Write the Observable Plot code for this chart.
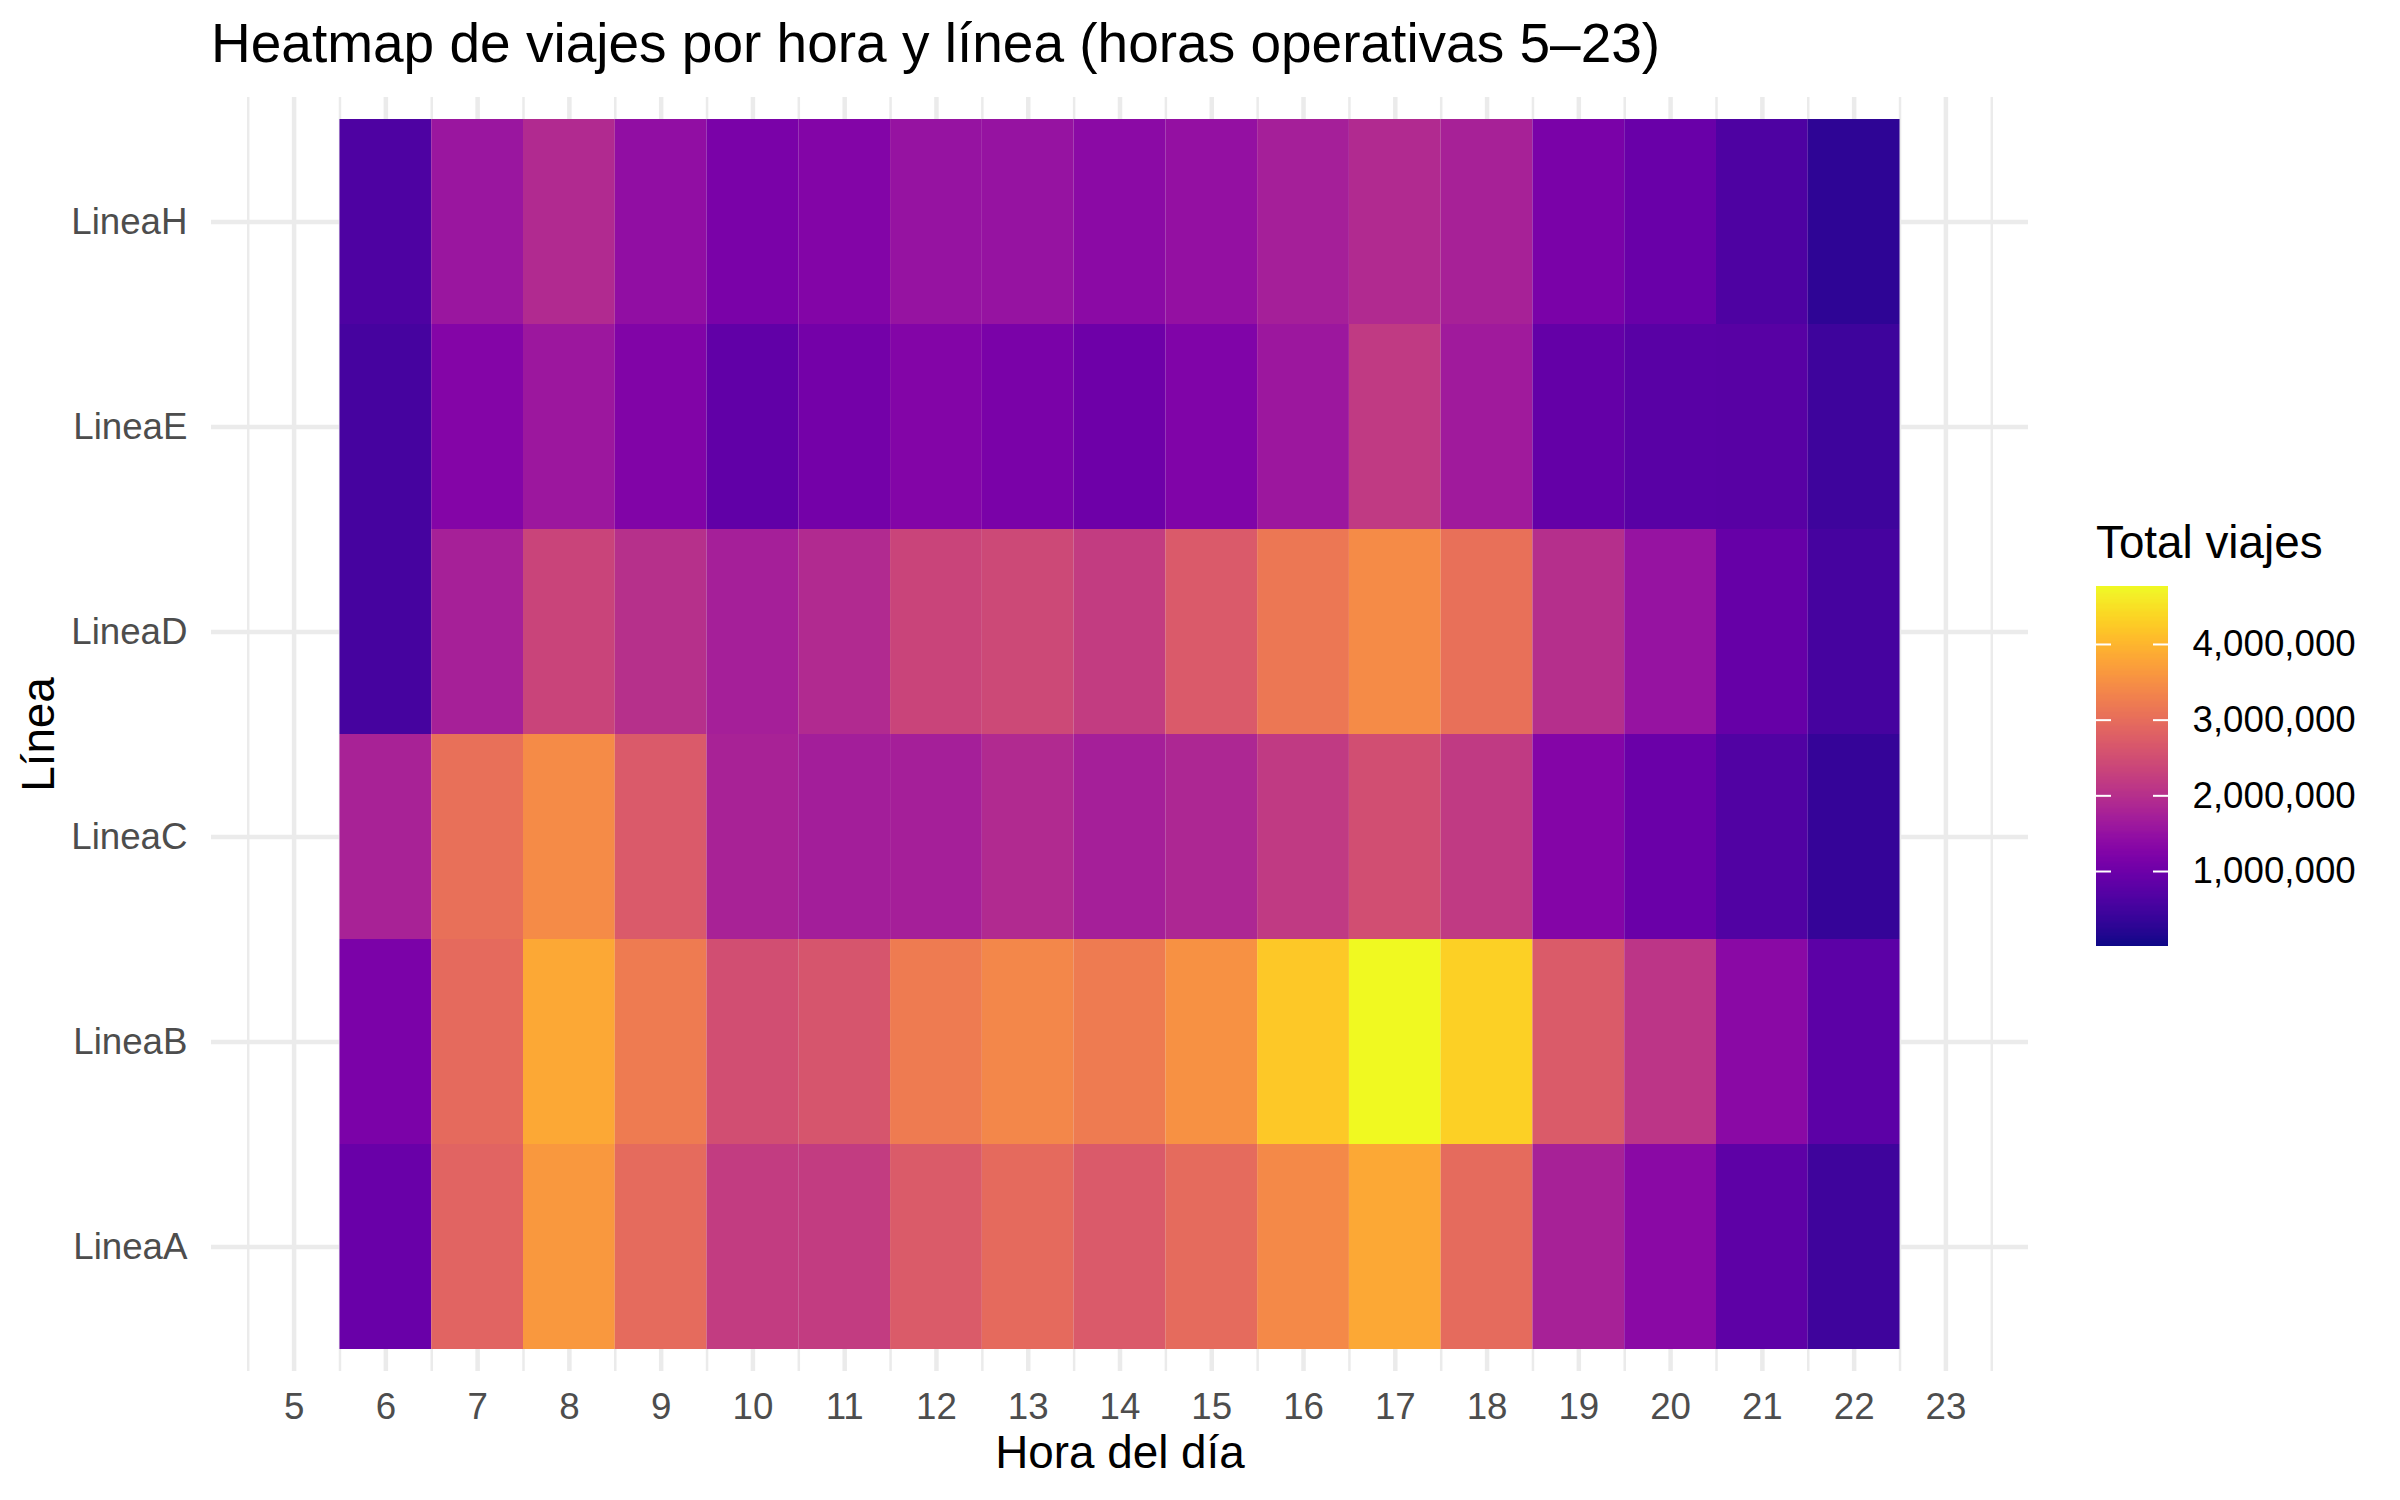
<!DOCTYPE html>
<html>
<head>
<meta charset="utf-8">
<script src="https://cdn.jsdelivr.net/npm/d3@7"></script>
<script src="https://cdn.jsdelivr.net/npm/@observablehq/plot@0.6"></script>
<style>
  html, body { margin: 0; padding: 0; background: white; }
  #page { position: relative; width: 2400px; height: 1500px; background: white; font-family: "Liberation Sans", Arial, sans-serif; overflow: hidden; }
  #title { position: absolute; left: 211px; top: 16px; font-size: 55px; line-height: 1; color: black; white-space: nowrap; }
  #chart { position: absolute; left: 0; top: 90px; width: 2400px; }
  #legend-title { position: absolute; left: 2096px; top: 520px; font-size: 45.8px; line-height: 1; color: black; white-space: nowrap; }
  #legend { position: absolute; left: 2096px; top: 576px; width: 300px; }
  svg { max-width: none !important; }
</style>
</head>
<body>
<div id="page">
  <div id="title">Heatmap de viajes por hora y línea (horas operativas 5–23)</div>
  <div id="chart"></div>
  <div id="legend-title">Total viajes</div>
  <div id="legend"></div>
</div>
<script>
// ---- Data ----
const lineOrder = ["LineaH", "LineaE", "LineaD", "LineaC", "LineaB", "LineaA"]; // top to bottom
const hours = [6, 7, 8, 9, 10, 11, 12, 13, 14, 15, 16, 17, 18, 19, 20, 21, 22];
const xTicks = [5, 6, 7, 8, 9, 10, 11, 12, 13, 14, 15, 16, 17, 18, 19, 20, 21, 22, 23];
const legendTicks = [1000000, 2000000, 3000000, 4000000];

const lineaA = [940000, 2860000, 3620000, 2980000, 2220000, 2220000, 2720000, 2960000, 2700000, 2980000, 3410000, 3820000, 2980000, 1770000, 1360000, 820000, 460000];
const lineaB = [1170000, 2960000, 3820000, 3220000, 2500000, 2620000, 3220000, 3390000, 3220000, 3530000, 4220000, 4766000, 4310000, 2720000, 2100000, 1360000, 790000];
const lineaC = [1790000, 3050000, 3430000, 2700000, 1790000, 1700000, 1730000, 1910000, 1720000, 1860000, 2170000, 2500000, 2170000, 1290000, 960000, 670000, 360000];
const lineaD = [530000, 1740000, 2340000, 2010000, 1720000, 1910000, 2340000, 2410000, 2220000, 2700000, 3150000, 3430000, 3050000, 1980000, 1530000, 910000, 530000];
const lineaE = [530000, 1290000, 1600000, 1250000, 860000, 1080000, 1270000, 1150000, 1000000, 1220000, 1600000, 2170000, 1650000, 890000, 770000, 750000, 440000];
const lineaH = [630000, 1580000, 1910000, 1440000, 1150000, 1270000, 1530000, 1530000, 1370000, 1480000, 1720000, 1910000, 1760000, 1150000, 950000, 630000, 280000];
const colorMin = 9000; // lower end of the colour bar

const series = { LineaA: lineaA, LineaB: lineaB, LineaC: lineaC, LineaD: lineaD, LineaE: lineaE, LineaH: lineaH };
const table = Object.entries(series).flatMap(([line, vals]) =>
  hours.map((hour, i) => ({ line, hour, value: vals[i] })));
const colorMax = d3.max(table, d => d.value);

const FONT = "'Liberation Sans', Arial, sans-serif";
const GRID = "#EBEBEB";
const minorX = [4.5, ...xTicks.map(t => t + 0.5)];

const chart = Plot.plot({
  width: 2400,
  height: 1410,
  marginTop: 7,
  marginBottom: 129,
  marginLeft: 211,
  marginRight: 372,
  style: { fontFamily: FONT, fontSize: "36.7px", color: "#4D4D4D", background: "white", overflow: "visible", maxWidth: "none" },
  x: { type: "linear", domain: [4.1, 23.9], ticks: xTicks, tickSize: 0, tickPadding: 21, tickFormat: d => String(d), label: null },
  y: { type: "band", domain: lineOrder, padding: 0, insetTop: 20.5, insetBottom: 20.5, tickSize: 0, tickPadding: 24, label: null },
  color: { type: "linear", scheme: "plasma", domain: [colorMin, colorMax] },
  marks: [
    Plot.ruleX(minorX, { stroke: GRID, strokeWidth: 2.5 }),
    Plot.ruleX(xTicks, { stroke: GRID, strokeWidth: 4.5 }),
    Plot.ruleY(lineOrder, { stroke: GRID, strokeWidth: 4.5 }),
    Plot.barX(table, { x1: d => d.hour - 0.5, x2: d => d.hour + 0.5, y: "line", fill: "value" }),
    Plot.text(["Hora del día"], { text: d => d, frameAnchor: "bottom", textAnchor: "middle", dy: 82, lineAnchor: "middle", fontSize: 45.8, fill: "black" }),
    Plot.text(["Línea"], { text: d => d, frameAnchor: "left", textAnchor: "middle", dx: -172, rotate: -90, lineAnchor: "middle", fontSize: 45.8, fill: "black" })
  ]
});
document.getElementById("chart").appendChild(chart);

// ---- Colour bar legend ----
const nBins = 300;
const bins = d3.range(nBins).map(i => {
  const lo = colorMin + (colorMax - colorMin) * i / nBins;
  const hi = colorMin + (colorMax - colorMin) * (i + 1) / nBins;
  return { lo, hi, mid: (lo + hi) / 2 };
});
const legend = Plot.plot({
  width: 300,
  height: 380,
  marginTop: 10,
  marginBottom: 10,
  marginLeft: 0,
  marginRight: 228,
  style: { fontFamily: FONT, fontSize: "36.7px", color: "black", background: "transparent", overflow: "visible", maxWidth: "none" },
  x: { domain: [0, 72], axis: null },
  y: { domain: [colorMin, colorMax], ticks: legendTicks, tickFormat: d3.format(","), tickSize: 0, tickPadding: 24, axis: "right", label: null },
  color: { type: "linear", scheme: "plasma", domain: [colorMin, colorMax] },
  marks: [
    Plot.rect(bins, { x1: 0, x2: 72, y1: "lo", y2: "hi", fill: "mid", shapeRendering: "crispEdges" }),
    Plot.ruleY(legendTicks, { x1: 0, x2: 15, stroke: "white", strokeWidth: 2 }),
    Plot.ruleY(legendTicks, { x1: 57, x2: 72, stroke: "white", strokeWidth: 2 })
  ]
});
document.getElementById("legend").appendChild(legend);
</script>
</body>
</html>
